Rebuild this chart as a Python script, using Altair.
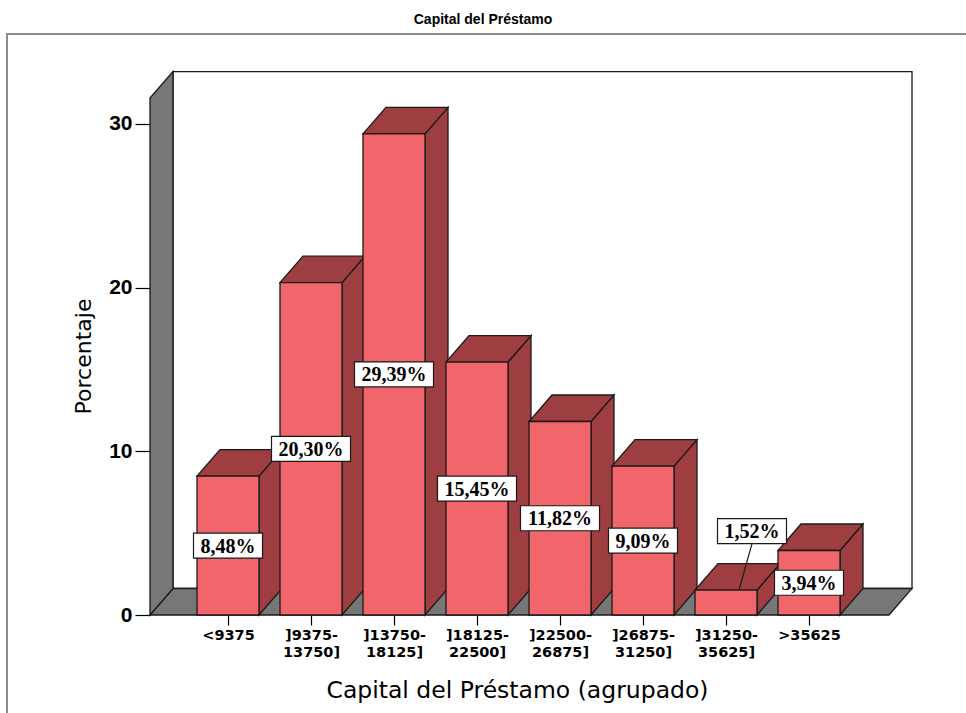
import altair as alt
import pandas as pd

# Loan capital, grouped; share of loans per group (%)
categories = ["<9375", "]9375-|13750]", "]13750-|18125]", "]18125-|22500]",
              "]22500-|26875]", "]26875-|31250]", "]31250-|35625]", ">35625"]
percentages = [8.48, 20.30, 29.39, 15.45, 11.82, 9.09, 1.52, 3.94]
y_ticks = [0, 10, 20, 30]

# ---- drawing geometry (pixels) ----
W, H = 770, 555            # plot area
PAD_L, PAD_T = 150, 60
BAND = 83.0                # px between category centres
PX_Y = 16.37               # px per percentage point
FIRST_CENTER = 78.0        # px from plot left edge to first category centre
BAR_W = 62.0
DEPTH_X, DEPTH_Y = 23.0, 26.5
WALL_TOP = 31.58           # height of the side wall (data units)
FLOOR_RIGHT_PX = 739.0     # px from plot left to the floor's front right corner

X0 = -FIRST_CENTER / BAND
X1 = X0 + W / BAND
Y1 = H / PX_Y
DX = DEPTH_X / BAND
DY = DEPTH_Y / PX_Y
HALF = BAR_W / 2 / BAND
FL = X0
FR = X0 + FLOOR_RIGHT_PX / BAND

FRONT = "#F0666B"
DARK = "#9E3E40"
GREY = "#777777"
EDGE = "#1a1a1a"

xs = alt.Scale(domain=[X0, X1], nice=False, zero=False)
ys = alt.Scale(domain=[0, Y1], nice=False, zero=False)


def X(field="x", **kw):
    return alt.X(f"{field}:Q", scale=xs, **kw)


def Y(field="y", **kw):
    return alt.Y(f"{field}:Q", scale=ys, stack=None, **kw)


# ---- faces ----
front_rows, side_rows, top_rows = [], [], []
for i, v in enumerate(percentages):
    xl, xr = i - HALF, i + HALF
    front_rows.append({"x": xl, "x2": xr, "y": 0, "y2": v})
    side_rows += [
        {"k": i, "x": xr, "y": 0, "y2": v},
        {"k": i, "x": xr + DX, "y": DY, "y2": v + DY},
    ]
    top_rows += [
        {"k": i, "x": xl, "y": v, "y2": v},
        {"k": i, "x": xl + DX, "y": v, "y2": v + DY},
        {"k": i, "x": xr, "y": v, "y2": v + DY},
        {"k": i, "x": xr + DX, "y": v + DY, "y2": v + DY},
    ]

front_df = pd.DataFrame(front_rows)
side_df = pd.DataFrame(side_rows)
top_df = pd.DataFrame(top_rows)

wall_df = pd.DataFrame([
    {"x": FL, "y": 0, "y2": WALL_TOP},
    {"x": FL + DX, "y": DY, "y2": WALL_TOP + DY},
])
floor_df = pd.DataFrame([
    {"x": FL, "y": 0, "y2": 0},
    {"x": FL + DX, "y": 0, "y2": DY},
    {"x": FR, "y": 0, "y2": DY},
    {"x": FR + DX, "y": DY, "y2": DY},
])
back_df = pd.DataFrame([{"x": FL + DX, "x2": FR + DX, "y": DY, "y2": WALL_TOP + DY}])

# ---- value labels ----
LABEL_FS = 20
BOX_H = 25.0
BOX_PAD = 7.0
OUT_DX_PX, OUT_RISE_PX = 26.0, 59.0
LEADER_DX_PX = 13.0


def em_width(s):
    return sum(1.0 if c == "%" else 0.25 if c == "," else 0.5 for c in s)


label_rows, leader_rows = [], []
for i, v in enumerate(percentages):
    txt = f"{v:.2f}".replace(".", ",") + "%"
    bw = em_width(txt) * LABEL_FS + 2 * BOX_PAD
    if v * PX_Y > BOX_H + 6:
        cx, cy = i, v / 2
    else:
        cx, cy = i + OUT_DX_PX / BAND, v + OUT_RISE_PX / PX_Y
        leader_rows.append({"x": cx, "y": cy - BOX_H / 2 / PX_Y,
                            "x2": i + LEADER_DX_PX / BAND, "y2": v})
    label_rows.append({
        "t": txt, "cx": cx, "cy": cy,
        "x": cx - bw / 2 / BAND, "x2": cx + bw / 2 / BAND,
        "y": cy - BOX_H / 2 / PX_Y, "y2": cy + BOX_H / 2 / PX_Y,
    })
label_df = pd.DataFrame(label_rows)
leader_df = pd.DataFrame(leader_rows)

tick_df = pd.DataFrame({"x": list(range(len(categories))), "y": 0})
lab_array = "[" + ",".join("'" + c + "'" for c in categories) + "]"

# ---- layers ----
frame = alt.Chart(pd.DataFrame({"a": [0]})).mark_rect(
    fill="transparent", stroke="#8c8c8c", strokeWidth=2
).encode(x=alt.value(-143), x2=alt.value(900), y=alt.value(-26), y2=alt.value(700))

title = alt.Chart(pd.DataFrame({"t": ["Capital del Préstamo"]})).mark_text(
    font="Liberation Sans", fontSize=14, fontWeight="bold", color="black",
    align="center", baseline="alphabetic"
).encode(x=alt.value(333), y=alt.value(-36), text="t:N")

back = alt.Chart(back_df).mark_rect(fill="white", stroke=EDGE, strokeWidth=1.3).encode(
    x=X(), x2="x2:Q", y=Y(), y2="y2:Q")

floor = alt.Chart(floor_df).mark_area(fill=GREY, stroke=EDGE, strokeWidth=1.3).encode(
    x=X(), y=Y(), y2="y2:Q")

wall = alt.Chart(wall_df).mark_area(fill=GREY, stroke=EDGE, strokeWidth=1.3).encode(
    x=X(), y=Y(), y2="y2:Q")

sides = alt.Chart(side_df).mark_area(fill=DARK, stroke=EDGE, strokeWidth=1.3).encode(
    x=X(), y=Y(), y2="y2:Q", detail="k:N")

tops = alt.Chart(top_df).mark_area(fill=DARK, stroke=EDGE, strokeWidth=1.3).encode(
    x=X(), y=Y(), y2="y2:Q", detail="k:N")

fronts = alt.Chart(front_df).mark_rect(fill=FRONT, stroke=EDGE, strokeWidth=1.3).encode(
    x=X(), x2="x2:Q", y=Y(), y2="y2:Q")

# axes drawn on an invisible layer
axes = alt.Chart(tick_df).mark_point(opacity=0).encode(
    x=X(axis=alt.Axis(
        values=list(range(len(categories))),
        labelExpr=f"split({lab_array}[datum.value], '|')",
        domain=False, grid=False, tickSize=10, tickColor="black", tickWidth=1.2,
        labelFont="DejaVu Sans", labelFontWeight="bold", labelFontSize=14.5,
        labelColor="black", labelLineHeight=17, labelPadding=3,
        title="Capital del Préstamo (agrupado)", titleFont="DejaVu Sans",
        titleFontWeight="normal", titleFontSize=23.5, titleColor="black",
        titleX=367, titleY=82, titleBaseline="alphabetic",
        titleAlign="center")),
    y=Y(axis=alt.Axis(
        values=y_ticks, domain=False, grid=False, tickSize=15, tickColor="black",
        tickWidth=1.2, labelFont="Liberation Sans", labelFontWeight="bold",
        labelFontSize=21, labelColor="black", labelPadding=3,
        title="Porcentaje", titleFont="DejaVu Sans", titleFontWeight="normal",
        titleFontSize=22, titleColor="black", titleAngle=-90,
        titleX=-60, titleY=296, titleAlign="center", titleBaseline="alphabetic")),
)

leader = alt.Chart(leader_df).mark_rule(color=EDGE, strokeWidth=1.2).encode(
    x=X(), x2="x2:Q", y=Y(), y2="y2:Q")

boxes = alt.Chart(label_df).mark_rect(fill="white", stroke=EDGE, strokeWidth=1.2).encode(
    x=X(), x2="x2:Q", y=Y(), y2="y2:Q")

texts = alt.Chart(label_df).mark_text(
    font="Liberation Serif", fontWeight="bold", fontSize=LABEL_FS, color="black",
    align="center", baseline="middle", dy=1
).encode(x=X("cx"), y=Y("cy"), text="t:N")

chart = alt.layer(
    frame, title, back, floor, wall, sides, tops, fronts, axes, leader, boxes, texts
).properties(
    width=W, height=H,
    autosize=alt.AutoSizeParams(type="none"),
    padding={"left": PAD_L, "top": PAD_T, "right": 966 - PAD_L - W, "bottom": 713 - PAD_T - H},
).configure(
    background="white",
    view=alt.ViewConfig(stroke="transparent", strokeWidth=0),
)

chart.save("out.html", embed_options={"renderer": "svg", "actions": False})
